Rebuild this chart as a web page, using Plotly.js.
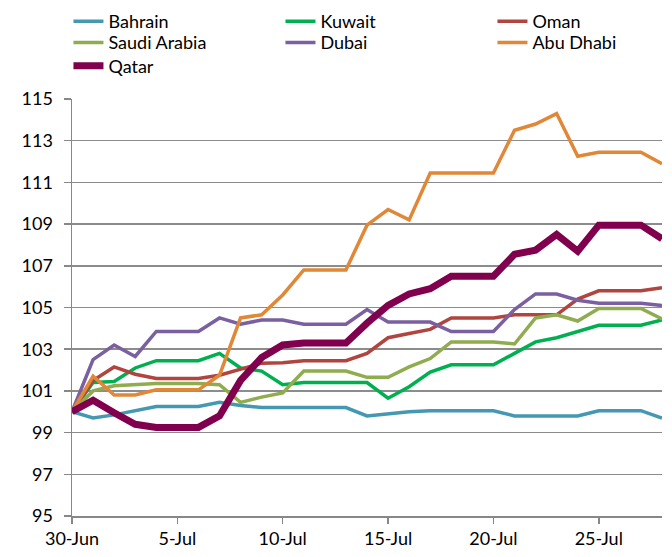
<!DOCTYPE html>
<html>
<head>
<meta charset="utf-8">
<script src="https://cdn.plot.ly/plotly-3.0.1.min.js"></script>
<style>html,body{margin:0;padding:0;background:#fff;}#chart{width:672px;height:557px;}</style>
</head>
<body>
<div id="chart"></div>
<script>
const dates = ['2013-06-30','2013-07-01','2013-07-02','2013-07-03','2013-07-04','2013-07-05','2013-07-06','2013-07-07','2013-07-08','2013-07-09','2013-07-10','2013-07-11','2013-07-12','2013-07-13','2013-07-14','2013-07-15','2013-07-16','2013-07-17','2013-07-18','2013-07-19','2013-07-20','2013-07-21','2013-07-22','2013-07-23','2013-07-24','2013-07-25','2013-07-26','2013-07-27','2013-07-28'];
const bahrain = [100,99.7,99.85,100.05,100.25,100.25,100.25,100.45,100.3,100.2,100.2,100.2,100.2,100.2,99.8,99.9,100.0,100.05,100.05,100.05,100.05,99.8,99.8,99.8,99.8,100.05,100.05,100.05,99.7];
const kuwait = [100,101.4,101.45,102.1,102.45,102.45,102.45,102.8,102.1,101.95,101.3,101.4,101.4,101.4,101.4,100.65,101.2,101.9,102.25,102.25,102.25,102.8,103.35,103.55,103.85,104.15,104.15,104.15,104.4];
const oman = [100,101.5,102.15,101.8,101.6,101.6,101.6,101.75,102.05,102.33,102.35,102.45,102.45,102.45,102.8,103.55,103.75,103.95,104.5,104.5,104.5,104.65,104.65,104.65,105.4,105.8,105.8,105.8,105.95];
const saudi = [100,101.0,101.25,101.3,101.35,101.35,101.35,101.3,100.45,100.7,100.9,101.95,101.95,101.95,101.65,101.65,102.15,102.55,103.35,103.35,103.35,103.25,104.5,104.65,104.35,104.95,104.95,104.95,104.45];
const dubai = [100,102.5,103.2,102.65,103.85,103.85,103.85,104.5,104.2,104.4,104.4,104.2,104.2,104.2,104.9,104.3,104.3,104.3,103.85,103.85,103.85,104.9,105.65,105.65,105.35,105.2,105.2,105.2,105.1];
const abuDhabi = [100,101.7,100.8,100.8,101.05,101.05,101.05,101.75,104.5,104.65,105.6,106.8,106.8,106.8,108.95,109.7,109.2,111.45,111.45,111.45,111.45,113.5,113.8,114.3,112.25,112.45,112.45,112.45,111.9];
const qatar = [100,100.55,99.95,99.4,99.25,99.25,99.25,99.8,101.5,102.6,103.2,103.3,103.3,103.3,104.25,105.1,105.65,105.9,106.5,106.5,106.5,107.55,107.75,108.5,107.7,108.95,108.95,108.95,108.3];
const yTicks = [95,97,99,101,103,105,107,109,111,113,115];

function tr(name, y, color, w, leg) {
  return {x: dates, y: y, name: name, type: 'scatter', mode: 'lines', legend: leg,
          line: {color: color, width: w, shape: 'linear'}, hoverinfo: 'skip'};
}
const data = [
  tr('Bahrain', bahrain, '#4598b2', 3.5, 'legend'),
  tr('Kuwait', kuwait, '#00b050', 3.5, 'legend'),
  tr('Oman', oman, '#b0443f', 3.5, 'legend'),
  tr('Saudi Arabia', saudi, '#8fac4e', 3.5, 'legend2'),
  tr('Dubai', dubai, '#7a60a0', 3.5, 'legend2'),
  tr('Abu Dhabi', abuDhabi, '#e08838', 3.5, 'legend2'),
  tr('Qatar', qatar, '#80004e', 7, 'legend3')
];
function leg(y) {
  return {orientation: 'h', x: -0.006, y: y, xanchor: 'left', yanchor: 'middle',
          entrywidth: 167, entrywidthmode: 'pixels', traceorder: 'normal',
          font: {size: 18, color: '#000'}, bgcolor: 'rgba(0,0,0,0)', borderwidth: 0};
}
const layout = {
  width: 672, height: 557,
  margin: {l: 72, r: 10, t: 99, b: 41, autoexpand: false},
  paper_bgcolor: '#fff', plot_bgcolor: '#fff',
  font: {family: 'Lato, "Open Sans", sans-serif', size: 18, color: '#000'},
  showlegend: true,
  legend: leg(1.186), legend2: leg(1.135), legend3: leg(1.079),
  xaxis: {type: 'date', range: ['2013-06-30', '2013-07-28'], tick0: '2013-06-30',
          dtick: 5 * 86400000, tickformat: '%-d-%b', showgrid: false, zeroline: false,
          showline: true, linecolor: '#878787', linewidth: 1.5,
          ticks: 'outside', ticklen: 6, tickcolor: '#878787', tickwidth: 1.5,
          tickfont: {size: 18}},
  yaxis: {range: [95, 115], tickvals: yTicks, ticktext: yTicks.map(String),
          showgrid: true, gridcolor: '#8c8c8c', gridwidth: 1.5, zeroline: false,
          showline: true, linecolor: '#878787', linewidth: 1.5,
          ticks: 'outside', ticklen: 7, tickcolor: '#878787', tickwidth: 1.5,
          ticklabelstandoff: 7, tickfont: {size: 18}}
};
Plotly.newPlot('chart', data, layout, {displayModeBar: false, staticPlot: true});
</script>
</body>
</html>
